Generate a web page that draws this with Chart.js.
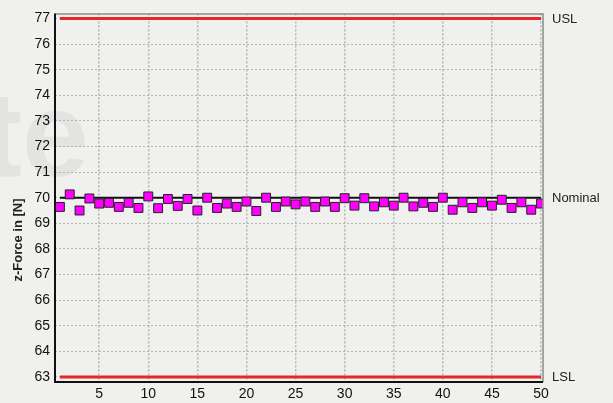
<!DOCTYPE html>
<html>
<head>
<meta charset="utf-8">
<script src="https://cdn.jsdelivr.net/npm/chart.js@4/dist/chart.umd.min.js"></script>
<style>
  html, body { margin: 0; padding: 0; background: #f0f0ee; }
  #wrap { width: 613px; height: 403px; }
</style>
</head>
<body>
<div id="wrap"><canvas id="c" width="613" height="403"></canvas></div>
<script>
// sample numbers and measured z-force per sample
const samples = [];
for (let i = 1; i <= 50; i++) samples.push(i);
const force = [
  69.64, 70.13, 69.50, 69.97, 69.77, 69.80, 69.64, 69.80, 69.60, 70.05,
  69.59, 69.95, 69.68, 69.95, 69.50, 70.00, 69.60, 69.77, 69.64, 69.85,
  69.48, 70.00, 69.64, 69.85, 69.74, 69.85, 69.64, 69.85, 69.64, 69.98,
  69.69, 69.98, 69.66, 69.82, 69.69, 70.00, 69.66, 69.80, 69.64, 70.00,
  69.53, 69.82, 69.60, 69.82, 69.69, 69.92, 69.60, 69.82, 69.53, 69.77
];
const limitNames = ['USL', 'Nominal', 'LSL'];
const limitValues = [77, 70, 63];
const xTicks = [5, 10, 15, 20, 25, 30, 35, 40, 45, 50];
const yTicks = [63, 64, 65, 66, 67, 68, 69, 70, 71, 72, 73, 74, 75, 76, 77];

const first = samples[0], last = samples[samples.length - 1];
const limitColors = ['#e8262a', '#111111', '#e8262a'];
const limitWidths = [3, 2, 3];

const limitSets = limitValues.map((v, i) => ({
  label: limitNames[i],
  data: [{x: first, y: v}, {x: last, y: v}],
  showLine: true,
  borderColor: limitColors[i],
  borderWidth: limitWidths[i],
  pointRadius: 0,
  order: 2
}));

const pointSet = {
  label: 'z-Force',
  data: samples.map((s, i) => ({x: s, y: force[i]})),
  pointStyle: 'rect',
  pointRadius: 6.3,
  pointBackgroundColor: '#ff00ff',
  pointBorderColor: '#222',
  pointBorderWidth: 1,
  showLine: false,
  order: 1
};

const decor = {
  id: 'decor',
  beforeDraw(chart) {
    const ctx = chart.ctx;
    ctx.save();
    ctx.fillStyle = '#f0f0ee';
    ctx.fillRect(0, 0, chart.width, chart.height);
    // faint watermark
    ctx.fillStyle = 'rgba(200,200,196,0.3)';
    ctx.font = 'bold 120px "Liberation Sans"';
    ctx.textBaseline = 'alphabetic';
    ctx.fillText('te', -18, 176);
    ctx.restore();
  },
  afterDraw(chart) {
    const ctx = chart.ctx, a = chart.chartArea, y = chart.scales.y;
    ctx.save();
    // top/right frame
    ctx.strokeStyle = '#8a8a8a';
    ctx.lineWidth = 1.5;
    ctx.beginPath();
    ctx.moveTo(a.left, a.top + 0.5); ctx.lineTo(a.right, a.top + 0.5);
    ctx.lineTo(a.right, a.bottom);
    ctx.stroke();
    // left / bottom axis
    ctx.strokeStyle = '#111';
    ctx.lineWidth = 2;
    ctx.beginPath();
    ctx.moveTo(a.left, a.top); ctx.lineTo(a.left, a.bottom); ctx.lineTo(a.right, a.bottom);
    ctx.stroke();
    // limit labels
    ctx.fillStyle = '#222';
    ctx.font = '13px "Liberation Sans"';
    ctx.textBaseline = 'middle';
    ctx.textAlign = 'left';
    limitValues.forEach((v, i) => {
      ctx.fillText(limitNames[i], a.right + 9, y.getPixelForValue(v) + 1);
    });
    // axis title
    ctx.translate(18, 240);
    ctx.rotate(-Math.PI / 2);
    ctx.textAlign = 'center';
    ctx.font = 'bold 13px "Liberation Sans"';
    ctx.fillText('z-Force in [N]', 0, 0);
    ctx.restore();
  }
};

new Chart(document.getElementById('c'), {
  type: 'scatter',
  data: { datasets: [...limitSets, pointSet] },
  options: {
    responsive: false,
    animation: false,
    devicePixelRatio: 1,
    layout: { padding: { top: 12, right: 70, left: 0, bottom: 0 } },
    plugins: { legend: { display: false }, tooltip: { enabled: false } },
    scales: {
      x: {
        type: 'linear',
        min: 0.5, max: 50.2,
        afterBuildTicks: s => { s.ticks = xTicks.map(v => ({value: v})); },
        afterFit: s => { s.height = 21; },
        grid: { color: '#b4b4b4', lineWidth: 1.5, drawTicks: false },
        border: { display: false, dash: [2, 2] },
        ticks: { color: '#111', font: { family: 'Liberation Sans', size: 14 }, padding: 4, maxRotation: 0 }
      },
      y: {
        type: 'linear',
        min: 62.8, max: 77.2,
        afterBuildTicks: s => { s.ticks = yTicks.map(v => ({value: v})); },
        afterFit: s => { s.width = 55; },
        grid: { color: '#b4b4b4', lineWidth: 1, drawTicks: false },
        border: { display: false, dash: [2, 2] },
        ticks: { color: '#111', font: { family: 'Liberation Sans', size: 14 }, padding: 5 }
      }
    }
  },
  plugins: [decor]
});
</script>
</body>
</html>
